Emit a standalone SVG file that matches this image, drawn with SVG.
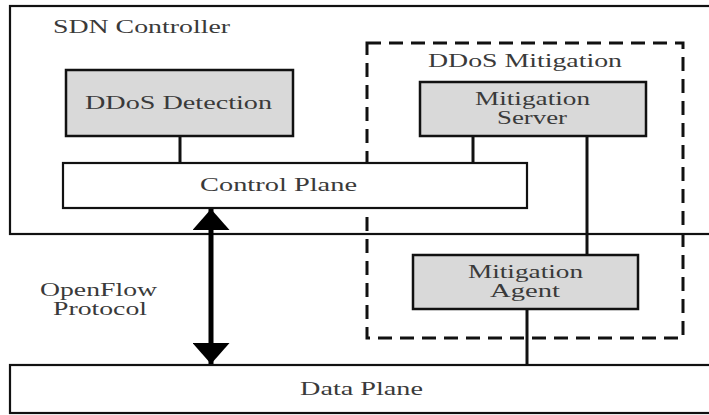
<svg xmlns="http://www.w3.org/2000/svg" width="709" height="415" viewBox="0 0 709 415">
<defs>
<style>
.box{fill:#fff;stroke:#111;stroke-width:2.2}
.gbox{fill:#d9d9d9;stroke:#111;stroke-width:2.5}
.dash{fill:none;stroke:#111;stroke-width:3;stroke-dasharray:14 8}
.ln{stroke:#111;stroke-width:3;fill:none}
.t{font-family:"Liberation Serif","Times New Roman",serif;font-size:18px;fill:#3a3a3a}
</style>
<marker id="ah" viewBox="0 0 10 10" refX="10" refY="5" markerWidth="4.2" markerHeight="7.4" preserveAspectRatio="none" markerUnits="strokeWidth" orient="auto-start-reverse">
<path d="M0,0 L10,5 L0,10 z" fill="#000"/>
</marker>
</defs>
<rect width="709" height="415" fill="#fff"/>
<g id="sdn-controller">
<rect class="box" x="10" y="6" width="710" height="228"/>
<text class="t" x="53" y="33" textLength="177" lengthAdjust="spacingAndGlyphs">SDN Controller</text>
</g>
<g id="ddos-mitigation">
<rect class="dash" x="367" y="43" width="316" height="295"/>
<text class="t" x="428" y="67" textLength="194" lengthAdjust="spacingAndGlyphs">DDoS Mitigation</text>
</g>
<g id="data-plane">
<rect class="box" x="10" y="365" width="710" height="48"/>
<text class="t" x="300" y="395" textLength="123" lengthAdjust="spacingAndGlyphs">Data Plane</text>
</g>
<g id="connectors">
<line class="ln" x1="180" y1="136" x2="180" y2="163"/>
<line class="ln" x1="473" y1="136" x2="473" y2="163"/>
<line class="ln" x1="587" y1="136" x2="587" y2="255"/>
<line class="ln" x1="527" y1="309" x2="527" y2="365"/>
<line stroke="#000" stroke-width="5" x1="211" y1="209" x2="211" y2="364" marker-start="url(#ah)" marker-end="url(#ah)"/>
</g>
<g id="ddos-detection">
<rect class="gbox" x="66" y="70" width="227" height="66"/>
<text class="t" x="85" y="109" textLength="187" lengthAdjust="spacingAndGlyphs">DDoS Detection</text>
</g>
<g id="control-plane">
<rect class="box" x="63" y="163" width="464" height="45"/>
<text class="t" x="200" y="191" textLength="157" lengthAdjust="spacingAndGlyphs">Control Plane</text>
</g>
<g id="mitigation-server">
<rect class="gbox" x="420" y="82" width="226" height="54"/>
<text class="t" x="475" y="105" textLength="115" lengthAdjust="spacingAndGlyphs">Mitigation</text>
<text class="t" x="497" y="124" textLength="70" lengthAdjust="spacingAndGlyphs">Server</text>
</g>
<g id="mitigation-agent">
<rect class="gbox" x="413" y="255" width="225" height="54"/>
<text class="t" x="468" y="278" textLength="115" lengthAdjust="spacingAndGlyphs">Mitigation</text>
<text class="t" x="490" y="297" textLength="70" lengthAdjust="spacingAndGlyphs">Agent</text>
</g>
<g id="openflow-label">
<text class="t" x="40" y="296" textLength="117" lengthAdjust="spacingAndGlyphs">OpenFlow</text>
<text class="t" x="53" y="315" textLength="94" lengthAdjust="spacingAndGlyphs">Protocol</text>
</g>
</svg>
